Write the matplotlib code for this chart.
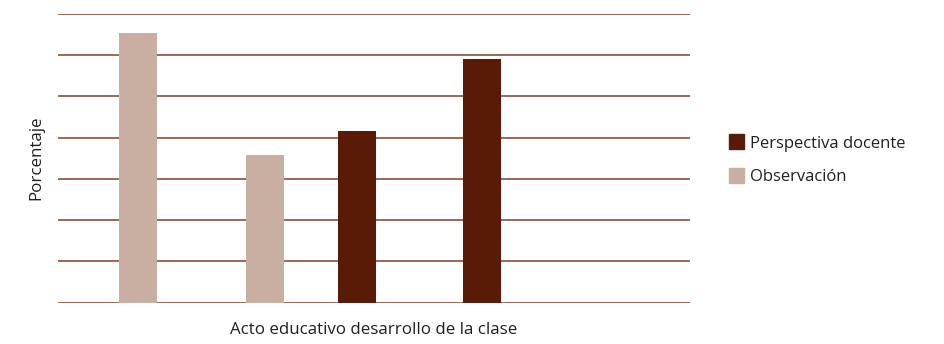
import matplotlib.pyplot as plt
from matplotlib.patches import Patch

# valores (porcentaje aproximado)
series = ["Perspectiva docente", "Observación"]
obs_pos = [80, 207]
obs_vals = [65.4, 35.7]
doc_pos = [299, 424]
doc_vals = [41.6, 59.1]

c_doc = "#5a1a08"
c_obs = "#c9afa1"
c_grid = "#7e3e2e"

plt.rcParams['font.family'] = ['Open Sans', 'DejaVu Sans']

fig = plt.figure(figsize=(9.45, 3.44), dpi=100)
ax = fig.add_axes([58/945, (344-302.5)/344, 632/945, (302.5-14)/344])

for y in range(0, 71, 10):
    ax.axhline(y, color=c_grid, lw=1.1, zorder=1)

ax.bar(obs_pos, obs_vals, width=38, color=c_obs, zorder=2)
ax.bar(doc_pos, doc_vals, width=38, color=c_doc, zorder=2)

ax.set_xlim(0, 632)
ax.set_ylim(0, 70)
ax.set_xticks([])
ax.set_yticks([])
for s in ax.spines.values():
    s.set_visible(False)

ax.set_xlabel("Acto educativo desarrollo de la clase", fontsize=12.2, color="#231f20", labelpad=14)
ax.set_ylabel("Porcentaje", fontsize=12.2, color="#231f20", labelpad=10)

handles = [Patch(color=c_doc), Patch(color=c_obs)]
fig.legend(handles, series, loc="center left", bbox_to_anchor=(714/945, 1 - 160/344),
           frameon=False, fontsize=12, handlelength=0.9, handleheight=1.0,
           handletextpad=0.35, labelspacing=1.0, labelcolor="#231f20")

fig.savefig("out.png", dpi=100)
